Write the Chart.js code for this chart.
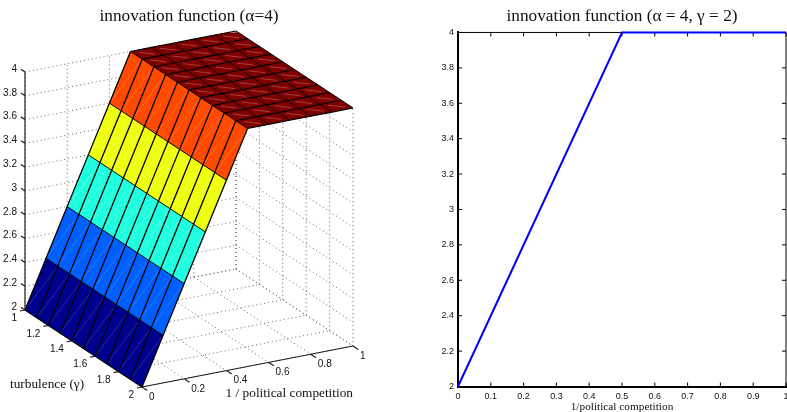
<!DOCTYPE html>
<html>
<head>
<meta charset="utf-8">
<style>
  html, body { margin: 0; padding: 0; background: #fff; overflow: hidden; }
  #left, #right { position: absolute; top: 0; }
  #left { left: 0; }
  #right { left: 393px; }
</style>
<script src="https://cdn.jsdelivr.net/npm/chart.js@4/dist/chart.umd.min.js"></script>
</head>
<body>
<canvas id="left" width="378" height="412"></canvas>
<canvas id="right" width="394" height="412"></canvas>
<script>
// surface values
const competitionGrid = [0, 0.1, 0.2, 0.3, 0.4, 0.5, 0.6, 0.7, 0.8, 0.9, 1];
const turbulenceGrid = [1, 1.1, 1.2, 1.3, 1.4, 1.5, 1.6, 1.7, 1.8, 1.9, 2];
const innovation = [2, 2.4, 2.8, 3.2, 3.6, 4, 4, 4, 4, 4, 4];

// tick labels
const competitionTicks3d = [0, 0.2, 0.4, 0.6, 0.8, 1];
const turbulenceTicks = [1, 1.2, 1.4, 1.6, 1.8, 2];
const innovationTicks = [2, 2.2, 2.4, 2.6, 2.8, 3, 3.2, 3.4, 3.6, 3.8, 4];
const competitionTicks = [0, 0.1, 0.2, 0.3, 0.4, 0.5, 0.6, 0.7, 0.8, 0.9, 1];

// right panel line (gamma = 2)
const lineCompetition = [0, 0.5, 1];
const lineInnovation = [2, 4, 4];

const bandColors = ["#00008f", "#0060ff", "#20ffdf", "#efff10", "#ff4a00", "#800000"];

const SERIF = "'Liberation Serif', serif";
const SANS = "'Liberation Sans', sans-serif";

// fixed camera of the 3d panel
function project(c, t, z) {
  return {
    x: 25 + (t - 1) * 117 + c * 211,
    y: 310 + (t - 1) * 77 - c * 41 - (z - 2) * 119,
  };
}

function polyline(points) {
  return points.map(p => project(p[0], p[1], p[2]));
}

// several strokes in one dataset, split by gaps
function strokes(list) {
  const out = [];
  list.forEach(s => {
    out.push(...polyline(s));
    out.push({ x: NaN, y: NaN });
  });
  return out;
}

function lineSet(list, color, width, dash) {
  return {
    data: strokes(list),
    showLine: true,
    pointRadius: 0,
    borderColor: color,
    borderWidth: width,
    borderDash: dash || [],
    tension: 0,
    fill: false,
    clip: false,
  };
}

const wallLines = [];
competitionTicks3d.forEach(c => {
  wallLines.push([[c, 1, 2], [c, 2, 2]]);
  wallLines.push([[c, 1, 2], [c, 1, 4]]);
});
turbulenceTicks.forEach(t => {
  wallLines.push([[0, t, 2], [1, t, 2]]);
  wallLines.push([[1, t, 2], [1, t, 4]]);
});
innovationTicks.forEach(z => {
  wallLines.push([[0, 1, z], [1, 1, z]]);
  wallLines.push([[1, 1, z], [1, 2, z]]);
});

const axisLines = [
  [[0, 1, 2], [0, 1, 4]],
  [[0, 1, 2], [0, 2, 2]],
  [[0, 2, 2], [1, 2, 2]],
];
innovationTicks.forEach(z => axisLines.push([[0, 1, z], [0, 0.965, z]]));
turbulenceTicks.forEach(t => axisLines.push([[0, t, 2], [-0.024, t, 2]]));
competitionTicks3d.forEach(c => axisLines.push([[c, 2, 2], [c, 2.045, 2]]));

const leftSets = [];
leftSets.push(lineSet(wallLines, "#666", 1, [1, 3]));
leftSets.push(lineSet(axisLines, "#222", 1.2));

const rampEnd = innovation.indexOf(4);
const rampStreaks = [];
const topStreaks = [];
for (let i = 0; i < competitionGrid.length - 1; i++) {
  for (let j = 0; j < turbulenceGrid.length - 1; j++) {
    const c0 = competitionGrid[i], c1 = competitionGrid[i + 1];
    const t0 = turbulenceGrid[j], t1 = turbulenceGrid[j + 1];
    const z0 = innovation[i], z1 = innovation[i + 1];
    leftSets.push({
      data: polyline([[c0, t0, z0], [c1, t0, z1], [c1, t1, z1], [c0, t1, z0], [c0, t0, z0]]),
      showLine: true,
      pointRadius: 0,
      borderWidth: 0,
      borderColor: "transparent",
      backgroundColor: bandColors[Math.min(i, bandColors.length - 1)],
      tension: 0,
      fill: "shape",
      clip: false,
    });
    // pale streak across each cell, as in the printed figure
    const m = f => [c0 + (c1 - c0) * f, t0 + (t1 - t0) * f, z0 + (z1 - z0) * f];
    if (i < rampEnd) rampStreaks.push([m(0.03), m(0.97)]);
    else topStreaks.push([m(0.25), m(0.75)]);
  }
}
leftSets.push(lineSet(rampStreaks, "rgba(255,255,255,0.22)", 0.7));
leftSets.push(lineSet(topStreaks, "rgba(255,255,255,0.32)", 0.8));

const alongCompetition = turbulenceGrid.map(t => competitionGrid.map((c, i) => [c, t, innovation[i]]));
const alongRamp = alongCompetition.map(row => row.slice(0, rampEnd + 1));
const alongTop = alongCompetition.map(row => row.slice(rampEnd));
const alongTurbulence = competitionGrid.map((c, i) => [[c, 1, innovation[i]], [c, 2, innovation[i]]]);
leftSets.push(lineSet(alongTurbulence, "#000", 1));
leftSets.push(lineSet(alongTop, "#000", 1.15));
leftSets.push(lineSet(alongRamp, "#000", 1.3));

// labels of the 3d panel, through the chart's own scales
const sceneLabels = {
  id: "sceneLabels",
  afterDraw(chart) {
    const { ctx, scales } = chart;
    const put = (text, p, dx, dy, align, font) => {
      ctx.textAlign = align;
      ctx.textBaseline = "middle";
      ctx.font = font;
      ctx.fillStyle = "#111";
      ctx.fillText(text, scales.x.getPixelForValue(p.x) + dx, scales.y.getPixelForValue(p.y) + dy);
    };
    ctx.save();
    const small = "10px " + SANS;
    innovationTicks.forEach(z => put(String(z), project(0, 1, z), -8, -3, "right", small));
    turbulenceTicks.forEach(t => put(String(t), project(0, t, 2), -8, 8.5, "right", small));
    competitionTicks3d.forEach(c => put(String(c), project(c, 2, 2), 7, 10, "left", small));
    put("turbulence (γ)", project(0, 2, 2), -132, -2, "left", "13.3px " + SERIF);
    put("1 / political competition", project(1, 2, 2), 0, 48, "right", "13.3px " + SERIF);
    ctx.restore();
  },
};

new Chart(document.getElementById("left"), {
  type: "scatter",
  data: { datasets: leftSets.reverse() },
  plugins: [sceneLabels],
  options: {
    responsive: false,
    animation: false,
    devicePixelRatio: 1,
    events: [],
    layout: { padding: 0 },
    plugins: {
      legend: { display: false },
      tooltip: { enabled: false },
      title: {
        display: true,
        text: "innovation function (α=4)",
        color: "#111",
        font: { family: SERIF, size: 17.3, weight: "normal" },
        padding: { top: 6.5, bottom: 5.2 },
      },
    },
    scales: {
      x: { type: "linear", display: false, min: 0, max: 378 },
      y: { type: "linear", display: false, min: 32.5, max: 412, reverse: true },
    },
  },
});

// box and inward ticks of the right panel
const boxTicks = {
  id: "boxTicks",
  beforeDatasetsDraw(chart) {
    const { ctx, chartArea: a, scales } = chart;
    ctx.save();
    ctx.strokeStyle = "#000";
    ctx.lineWidth = 1;
    ctx.beginPath();
    ctx.moveTo(a.left, a.top);
    ctx.lineTo(a.right, a.top);
    ctx.lineTo(a.right, a.bottom);
    competitionTicks.forEach(v => {
      const px = scales.x.getPixelForValue(v);
      ctx.moveTo(px, a.bottom);
      ctx.lineTo(px, a.bottom - 4);
      ctx.moveTo(px, a.top);
      ctx.lineTo(px, a.top + 4);
    });
    innovationTicks.forEach(v => {
      const py = scales.y.getPixelForValue(v);
      ctx.moveTo(a.left, py);
      ctx.lineTo(a.left + 4, py);
      ctx.moveTo(a.right, py);
      ctx.lineTo(a.right - 4, py);
    });
    ctx.stroke();
    ctx.restore();
  },
};

new Chart(document.getElementById("right"), {
  type: "line",
  data: {
    datasets: [{
      data: lineCompetition.map((c, i) => ({ x: c, y: lineInnovation[i] })),
      borderColor: "#0000ff",
      borderWidth: 2,
      pointRadius: 0,
      tension: 0,
      fill: false,
      clip: false,
    }],
  },
  plugins: [boxTicks],
  options: {
    responsive: false,
    animation: false,
    devicePixelRatio: 1,
    events: [],
    layout: { padding: { right: 1 } },
    plugins: {
      legend: { display: false },
      tooltip: { enabled: false },
      title: {
        display: true,
        fullSize: false,
        text: "innovation function (α = 4, γ = 2)",
        color: "#111",
        font: { family: SERIF, size: 17.3, weight: "normal" },
        padding: { top: 6.5, bottom: 5.2 },
      },
    },
    scales: {
      x: {
        type: "linear",
        min: 0,
        max: 1,
        afterBuildTicks: s => { s.ticks = competitionTicks.map(v => ({ value: v })); },
        afterFit: s => { s.paddingLeft = 0; s.paddingRight = 0; s.height = 25.5; },
        ticks: {
          color: "#111",
          font: { family: SANS, size: 9 },
          padding: 5,
          maxRotation: 0,
          autoSkip: false,
          callback: v => String(v),
        },
        grid: { display: false, drawTicks: false },
        border: { display: true, color: "#000", width: 2 },
        title: {
          display: true,
          text: "1/political competition",
          color: "#111",
          font: { family: SERIF, size: 11.3 },
          padding: { top: 0, bottom: -2 },
        },
      },
      y: {
        type: "linear",
        min: 2,
        max: 4,
        afterBuildTicks: s => { s.ticks = innovationTicks.map(v => ({ value: v })); },
        afterFit: s => { s.width = 65; s.paddingTop = 0; s.paddingBottom = 0; },
        ticks: {
          color: "#111",
          font: { family: SANS, size: 9 },
          padding: 4,
          autoSkip: false,
          callback: v => String(v),
        },
        grid: { display: false, drawTicks: false },
        border: { display: true, color: "#000", width: 2 },
      },
    },
  },
});
</script>
</body>
</html>
